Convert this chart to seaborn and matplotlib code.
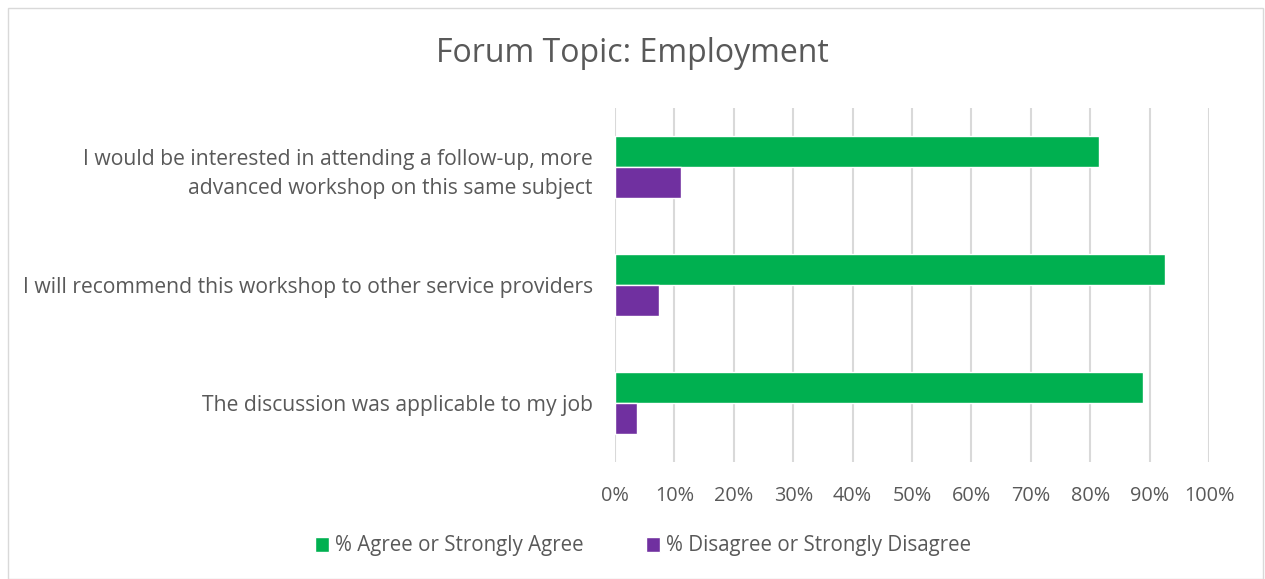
import matplotlib
matplotlib.use("Agg")
import matplotlib.pyplot as plt
import seaborn as sns
import pandas as pd
from matplotlib.patches import Rectangle
from matplotlib.ticker import PercentFormatter, MultipleLocator

categories = [
    "I would be interested in attending a follow-up, more\nadvanced workshop on this same subject",
    "I will recommend this workshop to other service providers",
    "The discussion was applicable to my job",
]
series_names = ["% Agree or Strongly Agree", "% Disagree or Strongly Disagree"]
agree = [81.5, 92.6, 88.9]
disagree = [11.1, 7.4, 3.7]
colors = ["#00B050", "#7030A0"]

df = pd.DataFrame({
    "category": categories * 2,
    "series": [series_names[0]] * 3 + [series_names[1]] * 3,
    "value": agree + disagree,
})

sns.set_theme(style="white")
plt.rcParams["font.family"] = ["Open Sans", "DejaVu Sans"]
txt = "#595959"

fig = plt.figure(figsize=(12.65, 5.79), dpi=100)
ax = fig.add_axes([615 / 1265, 1 - 462 / 579, (1209 - 615) / 1265, (462 - 108) / 579])

sns.barplot(data=df, y="category", x="value", hue="series", order=categories,
            hue_order=series_names, palette=colors, width=0.525, orient="h",
            ax=ax, saturation=1, zorder=3)

ax.set_xlim(0, 100)
ax.set_ylim(2.5, -0.5)
ax.xaxis.set_major_locator(MultipleLocator(10))
ax.xaxis.set_major_formatter(PercentFormatter(decimals=0))
ax.grid(axis="x", color="#D9D9D9", linewidth=1.5, zorder=0)
ax.set_axisbelow(True)
for s in ax.spines.values():
    s.set_visible(False)
ax.set_xlabel("")
ax.set_ylabel("")
ax.tick_params(axis="x", labelsize=14.3, labelcolor=txt, length=0, pad=17)
ax.tick_params(axis="y", labelsize=15.2, labelcolor=txt, length=0, pad=16)
for lab in ax.get_yticklabels():
    lab.set_horizontalalignment("right")
    lab.set_multialignment("right")
    lab.set_linespacing(1.55)

leg = ax.get_legend()
handles = leg.legend_handles
leg.remove()
fig.legend(handles, series_names, loc="center", bbox_to_anchor=(643 / 1265, 1 - 546 / 579),
           ncol=2, frameon=False, fontsize=14.8, labelcolor=txt, handlelength=0.7,
           handleheight=0.7, handletextpad=0.3, columnspacing=3.0)

fig.text(0.5, 1 - 53 / 579, "Forum Topic: Employment", ha="center", va="center",
         fontsize=23, color=txt)

fig.patches.append(Rectangle((8 / 1265, 0), 1255 / 1265, 1 - 8 / 579, transform=fig.transFigure,
                             fill=False, edgecolor="#D9D9D9", linewidth=1))

fig.savefig("out.png", dpi=100)
